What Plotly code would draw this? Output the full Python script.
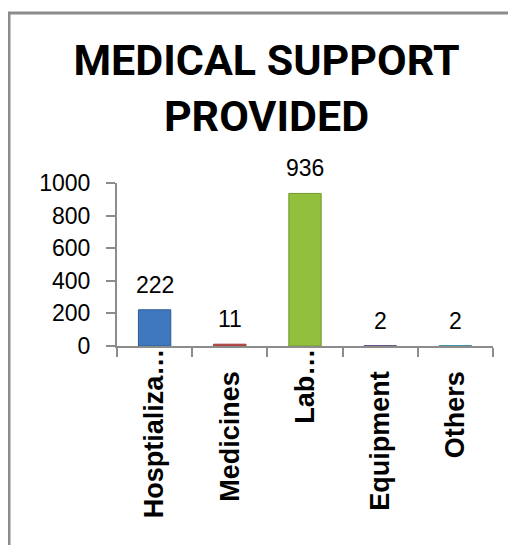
import plotly.graph_objects as go

categories = ["Hosptializa…", "Medicines", "Lab…", "Equipment", "Others"]
tick_labels = ["Hosptializa…", "Medicines\u00a0\u00a0\u00a0", "Lab…", "Equipment\u00a0\u00a0\u00a0", "Others\u00a0\u00a0\u00a0"]
values = [222, 11, 936, 2, 2]
bar_colors = ["#3f78bf", "#c0504d", "#92c03c", "#8064a2", "#4bacc6"]
line_colors = ["#2b5a94", "#9e3a37", "#6f9a2a", "#5f4a80", "#3a8aa0"]
y_ticks = [0, 200, 400, 600, 800, 1000]

# the page body has an 8px margin, so figure coords = reference coords - 8
W, H = 508, 537
L, R, T, B = 109, 23, 175, 199
pw = W - L - R
ph = H - T - B

fig = go.Figure()
fig.add_trace(go.Bar(
    x=categories, y=values,
    marker=dict(color=bar_colors, line=dict(color=line_colors, width=1)),
    width=0.43,
    showlegend=False,
))

for c, v in zip(categories, values):
    fig.add_annotation(x=c, y=v, text=str(v), showarrow=False,
                       yanchor="middle", yshift=25,
                       font=dict(family="Liberation Sans", size=23, color="black"))

def px_x(p):
    return (p - L) / pw

def px_y(p):
    return 1 - (p - T) / ph

# outer frame (left and top edges visible)
fig.add_shape(type="line", xref="paper", yref="paper",
              x0=px_x(1), x1=px_x(1), y0=px_y(5), y1=px_y(560),
              line=dict(color="#8c8c8c", width=3))
fig.add_shape(type="line", xref="paper", yref="paper",
              x0=px_x(0), x1=px_x(530), y0=px_y(5), y1=px_y(5),
              line=dict(color="#8c8c8c", width=3))

fig.update_layout(
    width=W, height=H,
    margin=dict(l=L, r=R, t=T, b=B, autoexpand=False),
    paper_bgcolor="white", plot_bgcolor="white",
    title=dict(text="<b>MEDICAL SUPPORT<br>PROVIDED</b>",
               x=258.5 / W, xanchor="center", y=1 - 67 / H, yanchor="middle",
               font=dict(family="Roboto", size=43, color="black")),
    bargap=0.57,
    xaxis=dict(
        type="category",
        tickmode="array", tickvals=categories, ticktext=[f"<b>{t}</b>" for t in tick_labels],
        tickangle=-90,
        ticks="outside", ticklen=9, tickcolor="#8c8c8c", tickwidth=2,
        tickson="boundaries",
        showline=True, linecolor="#8c8c8c", linewidth=2,
        showgrid=False,
        tickfont=dict(family="Liberation Sans", size=27, color="black"),
        ticklabelstandoff=-10,
        range=[-0.5, 4.5],
    ),
    yaxis=dict(
        range=[0, 1000],
        tickmode="array", tickvals=y_ticks,
        ticks="outside", ticklen=9, tickcolor="#8c8c8c", tickwidth=2,
        showline=True, linecolor="#8c8c8c", linewidth=2,
        showgrid=False, zeroline=False,
        tickfont=dict(family="Liberation Sans", size=23, color="black"),
        ticklabelstandoff=11,
    ),
)

fig.write_html("out.html")
